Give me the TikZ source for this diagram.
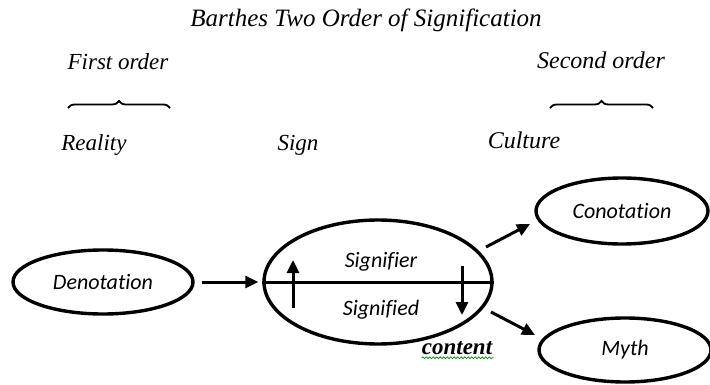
\documentclass[tikz,border=0pt]{standalone}
\usepackage{fontspec}
\setmainfont{Liberation Serif}
\newfontfamily\calib[Ligatures=NoCommon]{Carlito}
\usetikzlibrary{shapes.geometric,arrows.meta,decorations.pathreplacing,decorations.pathmorphing}
\begin{document}
\begin{tikzpicture}[x=1pt,y=-1pt,
  serif/.style={font=\fontsize{23}{25}\selectfont\itshape, inner sep=0pt},
  oval/.style={ellipse, draw=black, line width=3.4pt, inner sep=0pt, font=\calib\fontsize{22}{24}\selectfont\itshape},
  inlab/.style={font=\calib\fontsize{22}{24}\selectfont\itshape, inner sep=0pt},
  arr/.style={line width=3pt, -{Triangle[length=13pt,width=12pt]}},
  bracestyle/.style={line width=1.8pt, decorate, decoration={brace, amplitude=7pt}}
]
\useasboundingbox (0,0) rectangle (710,385);
\fill[white] (0,0) rectangle (710,385);

% top texts
\node[serif, font=\fontsize{25}{27}\selectfont\itshape] (title) at (366,20) {Barthes Two Order of Signification};
\node[serif] (first) at (118,62) {First order};
\node[serif, font=\fontsize{24}{26}\selectfont\itshape] (second) at (601,60) {Second order};
\coordinate (b1l) at (68,108);
\coordinate (b1r) at (170,108);
\coordinate (b2l) at (550,108);
\coordinate (b2r) at (653,108);
\draw[bracestyle] (b1l) -- (b1r);
\draw[bracestyle] (b2l) -- (b2r);
\node[serif, anchor=base] (reality) at (94,151) {Reality};
\node[serif, anchor=base] (signlab) at (298,151) {Sign};
\node[serif, anchor=base, font=\fontsize{24}{26}\selectfont\itshape] (culture) at (524,149) {Culture};

% ellipses
\node[oval, minimum width=180pt, minimum height=64pt] (den) at (103,282) {Denotation};
\node[oval, minimum width=228pt, minimum height=124pt] (sign) at (378,282) {};
\node[oval, minimum width=172pt, minimum height=66pt] (con) at (622,211) {Conotation};
\node[oval, minimum width=172pt, minimum height=64pt] (myth) at (625,350) {Myth};

% inside sign
\draw[line width=3pt] (sign.west) -- (sign.east);
\node[inlab] (sfr) at (381,262) {Signifier};
\node[inlab] (sfd) at (381,310) {Signified};
\coordinate (up1) at (293,308);
\coordinate (up2) at (293,260);
\coordinate (dn1) at (462,266);
\coordinate (dn2) at (462,315);
\draw[arr] (up1) -- (up2);
\draw[arr] (dn1) -- (dn2);

% connectors
\draw[arr, shorten <=7pt, shorten >=4pt] (den.east) -- (sign.west);
\coordinate (a1) at (486,247);
\coordinate (a2) at (530,224);
\coordinate (b1) at (491,312);
\coordinate (b2) at (535,335);
\draw[arr] (a1) -- (a2);
\draw[arr] (b1) -- (b2);

% content
\node[font=\fontsize{23}{25}\selectfont\bfseries\itshape, inner sep=0pt] (content) at (457,348) {content};
\draw[green!55!black, line width=0.7pt, decorate, decoration={snake, amplitude=0.9pt, segment length=3.5pt}] (content.south west) ++(0,3) -- ++(72,0);
\end{tikzpicture}
\end{document}
